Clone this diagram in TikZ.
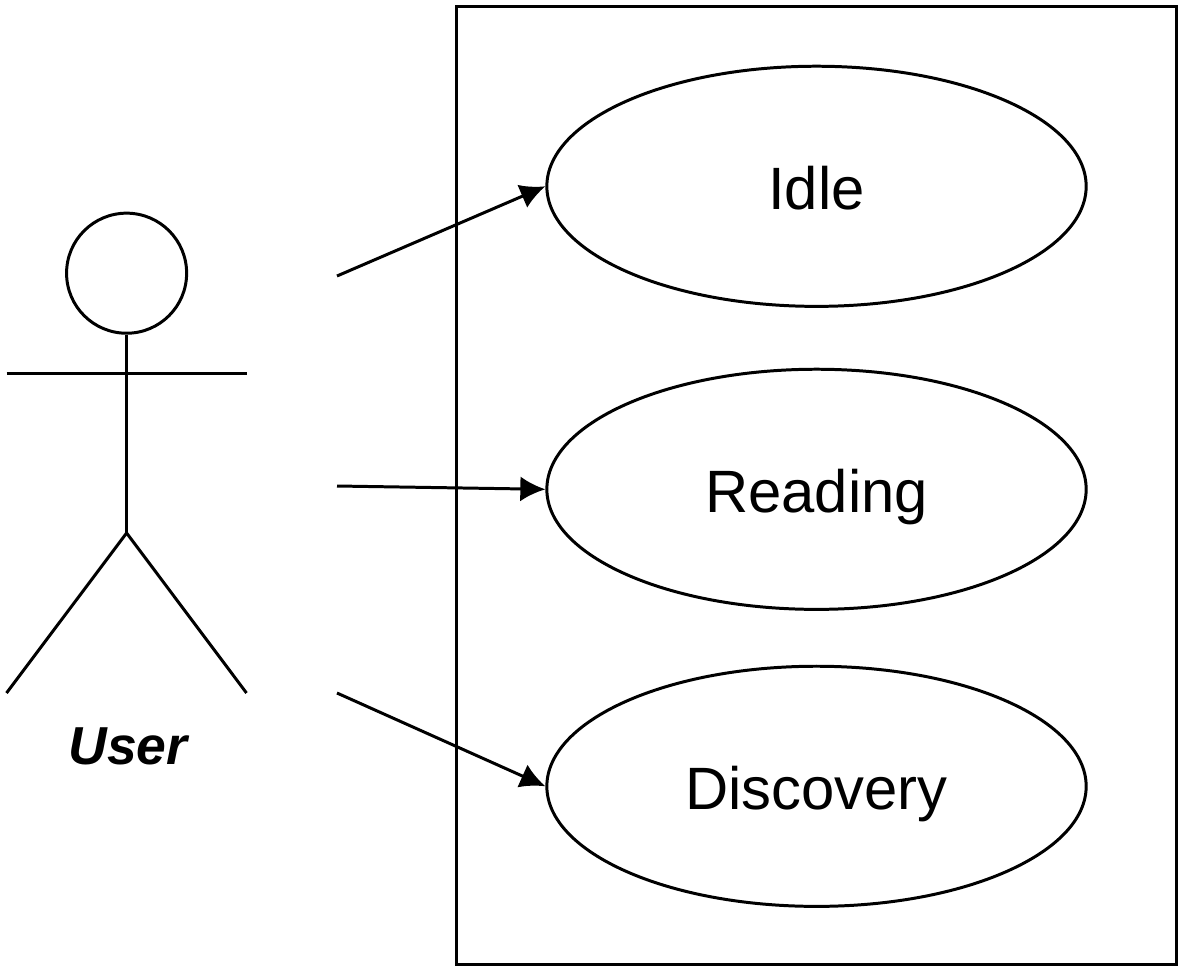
\documentclass[tikz,border=0pt]{standalone}
\usepackage{fontspec}
\setmainfont{Liberation Sans}
\usetikzlibrary{shapes.geometric,arrows.meta}
\tikzset{
	usecase/.style={draw,ellipse,minimum width=5.39cm,minimum height=2.4cm,inner sep=0pt,text height=0.46cm,text depth=0cm,font=\fontsize{17}{20}\selectfont},
	assoc/.style={-{Latex[length=0.25cm,width=0.25cm]}},
}
\begin{document}
\begin{tikzpicture}[x=0.01cm,y=-0.01cm,line width=0.85pt]
\useasboundingbox (0,0) rectangle (1183,970);
\draw (456.7,6.8) rectangle (1176,964);

%%%%%%%%%%% acteur
\node[draw,circle,minimum size=1.2cm,inner sep=0pt] (head) at (126.6,273.2) {};
\coordinate (hip) at (126.6,533);
\coordinate (armL) at (6.5,373);
\coordinate (armR) at (246.5,373);
\coordinate (footL) at (6.5,693);
\coordinate (footR) at (246.5,693);
\draw (head.south) -- (hip);
\draw (armL) -- (armR);
\draw (footL) -- (hip) -- (footR);
\node[font=\fontsize{15.2}{18}\selectfont\bfseries\itshape] (user) at (128,746) {User};

% ---------------    cas
\node[usecase] (idle) at (816.5,186.3) {Idle};
\node[usecase] (reading) at (816.5,489.3) {Reading};
\node[usecase] (discovery) at (816.5,786.3) {Discovery};

% ---------------    liens
\coordinate (from1) at (337,276);
\coordinate (from2) at (337,486);
\coordinate (from3) at (337,693);
\draw[assoc] (from1) -- (idle.west);
\draw[assoc] (from2) -- (reading.west);
\draw[assoc] (from3) -- (discovery.west);
\end{tikzpicture}
\end{document}
